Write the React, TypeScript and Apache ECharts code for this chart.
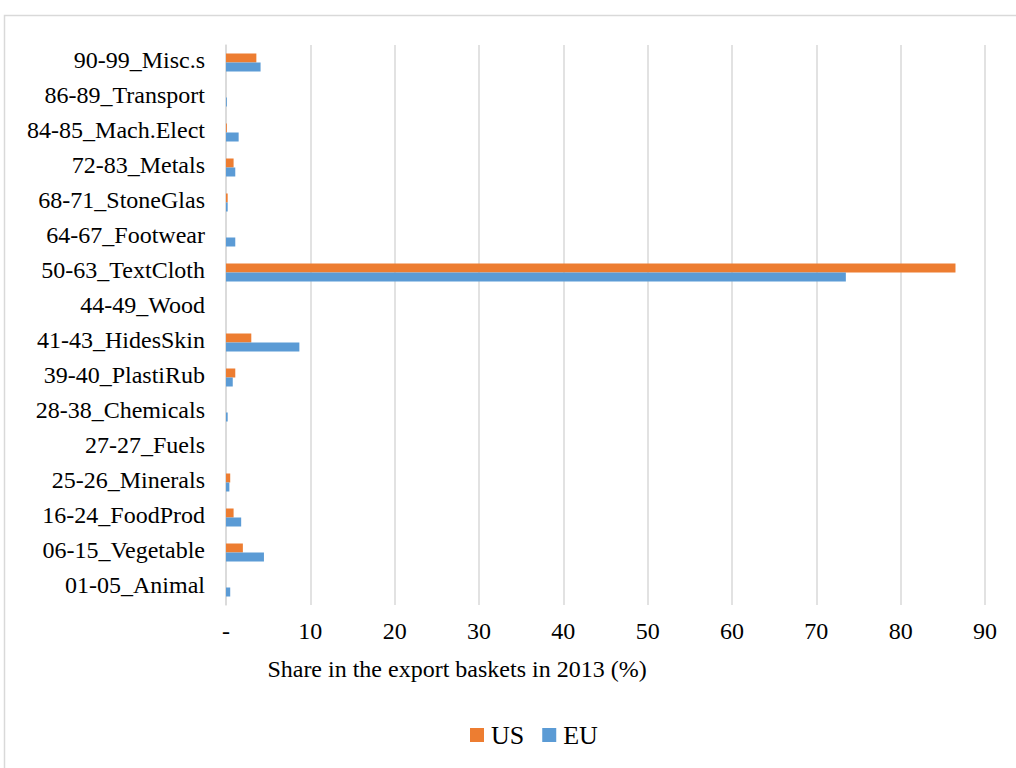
import React, { useEffect, useRef } from "react";
import * as echarts from "echarts";

const categories = [
  "01-05_Animal",
  "06-15_Vegetable",
  "16-24_FoodProd",
  "25-26_Minerals",
  "27-27_Fuels",
  "28-38_Chemicals",
  "39-40_PlastiRub",
  "41-43_HidesSkin",
  "44-49_Wood",
  "50-63_TextCloth",
  "64-67_Footwear",
  "68-71_StoneGlas",
  "72-83_Metals",
  "84-85_Mach.Elect",
  "86-89_Transport",
  "90-99_Misc.s",
];

const usValues = [0, 2.0, 0.9, 0.5, 0, 0, 1.1, 3.0, 0, 86.5, 0, 0.2, 0.9, 0.1, 0, 3.6];
const euValues = [0.5, 4.5, 1.8, 0.4, 0, 0.2, 0.8, 8.7, 0, 73.5, 1.1, 0.2, 1.1, 1.5, 0.1, 4.1];

const xTicks = [0, 10, 20, 30, 40, 50, 60, 70, 80, 90];
const axisTitle = "Share in the export baskets in 2013 (%)";
const seriesNames = ["US", "EU"];

const FONT = "'Liberation Serif', 'Times New Roman', serif";

export default function App() {
  const ref = useRef<HTMLDivElement>(null);
  useEffect(() => {
    if (!ref.current) return;
    const chart = echarts.init(ref.current, undefined, { renderer: "svg" });
    chart.setOption({
      animation: false,
      backgroundColor: "#ffffff",
      textStyle: { fontFamily: FONT, color: "#000" },
      graphic: [
        {
          type: "rect",
          shape: { x: 4.5, y: 15.5, width: 1100, height: 900 },
          style: { fill: "none", stroke: "#d9d9d9", lineWidth: 1.5 },
          silent: true,
        },
      ],
      title: {
        text: axisTitle,
        left: 452,
        top: 652,
        textAlign: "center",
        textStyle: { fontFamily: FONT, fontSize: 24, fontWeight: "normal", color: "#000" },
      },
      legend: {
        data: seriesNames,
        left: 465,
        top: 717,
        icon: "rect",
        itemWidth: 14,
        itemHeight: 14,
        itemGap: 18,
        textStyle: { fontFamily: FONT, fontSize: 26, color: "#000", padding: [0, 0, 0, 2] },
      },
      grid: { left: 226, right: 31, top: 45, bottom: 163, containLabel: false },
      xAxis: {
        type: "value",
        min: xTicks[0],
        max: xTicks[xTicks.length - 1],
        interval: 10,
        axisLine: { show: false },
        axisTick: { show: false },
        splitLine: { show: true, lineStyle: { color: "#d9d9d9", width: 1.5 } },
        axisLabel: {
          margin: 14,
          fontFamily: FONT,
          fontSize: 24,
          color: "#000",
          formatter: (v: number) => (v === 0 ? "-" : String(v)),
        },
      },
      yAxis: {
        type: "category",
        data: categories,
        axisTick: { show: false },
        axisLine: { show: true, lineStyle: { color: "#d9d9d9", width: 1.5 } },
        axisLabel: {
          margin: 21,
          fontFamily: FONT,
          fontSize: 24,
          color: "#000",
          formatter: (v: string) => "{a|" + v + "}",
          rich: {
            a: { fontFamily: FONT, fontSize: 24, color: "#000", padding: [0, 0, 5, 0] },
          },
        },
      },
      series: [
        {
          name: seriesNames[0],
          type: "bar",
          data: usValues,
          barWidth: 9,
          barGap: "0%",
          itemStyle: { color: "#ED7D31" },
        },
        {
          name: seriesNames[1],
          type: "bar",
          data: euValues,
          barWidth: 9,
          barGap: "0%",
          itemStyle: { color: "#5B9BD5" },
        },
      ],
    });
    return () => chart.dispose();
  }, []);
  return (
    <div
      ref={ref}
      style={{ position: "absolute", left: 0, top: 0, width: 1016, height: 768 }}
    />
  );
}
